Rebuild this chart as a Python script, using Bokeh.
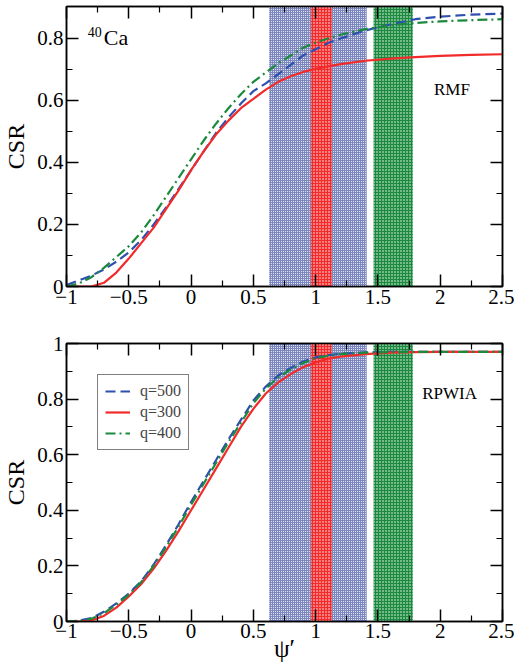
from bokeh.plotting import figure
from bokeh.models import (Range1d, LinearAxis, FixedTicker, BoxAnnotation, Label,
                          Legend, LegendItem, CustomLabelingPolicy)
from bokeh.layouts import column
from bokeh.embed import file_html
from bokeh.resources import INLINE

# ---------------- data ----------------
psi = [-1.0, -0.9, -0.8, -0.7, -0.6, -0.5, -0.4, -0.3, -0.2, -0.1, 0.0,
       0.1, 0.2, 0.3, 0.4, 0.5, 0.6, 0.7, 0.8, 0.9, 1.0, 1.1, 1.2, 1.4,
       1.6, 1.8, 2.0, 2.25, 2.5]

# RMF panel
rmf_q500 = [0.005, 0.02, 0.035, 0.055, 0.08, 0.11, 0.15, 0.20, 0.255, 0.315, 0.375,
            0.435, 0.495, 0.545, 0.59, 0.63, 0.655, 0.685, 0.715, 0.745, 0.765,
            0.785, 0.80, 0.826, 0.845, 0.862, 0.87, 0.877, 0.88]
rmf_q300 = [0.0, 0.0, 0.0, 0.012, 0.045, 0.09, 0.14, 0.19, 0.25, 0.31, 0.375,
            0.435, 0.49, 0.535, 0.575, 0.605, 0.635, 0.66, 0.678, 0.692, 0.702,
            0.71, 0.717, 0.728, 0.735, 0.74, 0.744, 0.747, 0.749]
rmf_q400 = [0.0, 0.01, 0.03, 0.06, 0.095, 0.13, 0.175, 0.23, 0.29, 0.35, 0.41,
            0.47, 0.525, 0.575, 0.62, 0.66, 0.69, 0.72, 0.745, 0.77, 0.787,
            0.80, 0.812, 0.83, 0.842, 0.85, 0.855, 0.859, 0.862]

# RPWIA panel
rpwia_q500 = [0.0, 0.003, 0.012, 0.035, 0.065, 0.10, 0.145, 0.205, 0.275, 0.35, 0.43,
              0.505, 0.58, 0.655, 0.725, 0.795, 0.845, 0.885, 0.912, 0.935, 0.95,
              0.958, 0.963, 0.968, 0.97, 0.97, 0.97, 0.97, 0.97]
rpwia_q300 = [0.0, 0.0, 0.004, 0.02, 0.05, 0.09, 0.135, 0.19, 0.255, 0.325, 0.40,
              0.475, 0.55, 0.625, 0.70, 0.765, 0.82, 0.86, 0.89, 0.915, 0.932,
              0.945, 0.953, 0.962, 0.967, 0.969, 0.97, 0.97, 0.97]
rpwia_q400 = [0.0, 0.002, 0.01, 0.03, 0.06, 0.097, 0.142, 0.2, 0.268, 0.342, 0.42,
              0.495, 0.57, 0.645, 0.715, 0.785, 0.838, 0.878, 0.907, 0.93, 0.947,
              0.956, 0.962, 0.967, 0.969, 0.97, 0.97, 0.97, 0.97]

# shaded psi' bands (left, right)
band_blue = (0.627, 1.41)
band_red = (0.962, 1.129)
band_green = (1.465, 1.78)

x_major = [-1.0, -0.5, 0.0, 0.5, 1.0, 1.5, 2.0, 2.5]
x_minor = [-0.75, -0.25, 0.25, 0.75, 1.25, 1.75, 2.25]
x_labels = {-1.0: "\u22121", -0.5: "\u22120.5", 0.0: "0", 0.5: "0.5", 1.0: "1",
            1.5: "1.5", 2.0: "2", 2.5: "2.5"}
y_major_top = [0.0, 0.2, 0.4, 0.6, 0.8]
y_minor_top = [0.1, 0.3, 0.5, 0.7]
y_major_bot = [0.0, 0.2, 0.4, 0.6, 0.8, 1.0]
y_minor_bot = [0.1, 0.3, 0.5, 0.7, 0.9]
y_labels = {0.0: "0", 0.2: "0.2", 0.4: "0.4", 0.6: "0.6", 0.8: "0.8", 1.0: "1"}

series_names = ["q=500", "q=300", "q=400"]
BLUE = "#2f4fae"
RED = "#f22a2a"
GREEN = "#1b8a3e"
BAND_BLUE = "#34479a"
SERIF = "Liberation Serif"

HIDE_ALL = "for (const i of indices) { indices.unset(i) }\nreturn indices"


def style_axis(ax, show_labels):
    ax.axis_line_color = "black"
    ax.axis_line_width = 1.5
    ax.major_tick_line_color = "black"
    ax.major_tick_line_width = 1.5
    ax.minor_tick_line_color = "black"
    ax.minor_tick_line_width = 1.2
    ax.major_tick_in = 12
    ax.major_tick_out = 0
    ax.minor_tick_in = 6
    ax.minor_tick_out = 0
    ax.major_label_text_font = SERIF
    ax.major_label_text_color = "black"
    if show_labels:
        ax.major_label_text_font_size = "21px"
        ax.major_label_standoff = 3
    else:
        ax.major_label_text_font_size = "1px"
        ax.major_label_standoff = 0
        ax.major_label_policy = CustomLabelingPolicy(code=HIDE_ALL)


def make_fig(height, border_top, border_bottom, ymax, ymaj, ymin):
    p = figure(width=514, height=height, output_backend="svg", toolbar_location=None,
               x_range=Range1d(-1.0, 2.5), y_range=Range1d(0.0, ymax),
               min_border_left=66, min_border_right=12,
               min_border_top=border_top, min_border_bottom=border_bottom)
    p.grid.visible = False
    p.outline_line_color = "black"
    p.outline_line_width = 1.5
    p.background_fill_color = "white"
    bottom_ax = p.below[0]
    left_ax = p.left[0]
    bottom_ax.ticker = FixedTicker(ticks=x_major, minor_ticks=x_minor)
    left_ax.ticker = FixedTicker(ticks=ymaj, minor_ticks=ymin)
    bottom_ax.major_label_overrides = x_labels
    left_ax.major_label_overrides = y_labels
    style_axis(bottom_ax, True)
    style_axis(left_ax, True)
    left_ax.major_label_standoff = 3
    left_ax.axis_label = "CSR"
    left_ax.axis_label_text_font = SERIF
    left_ax.axis_label_text_font_size = "24px"
    left_ax.axis_label_text_font_style = "normal"
    left_ax.axis_label_text_color = "black"
    left_ax.axis_label_standoff = 5
    top = LinearAxis(ticker=FixedTicker(ticks=x_major, minor_ticks=x_minor))
    style_axis(top, False)
    p.add_layout(top, "above")
    right = LinearAxis(ticker=FixedTicker(ticks=ymaj, minor_ticks=ymin))
    style_axis(right, False)
    p.add_layout(right, "right")

    for (l, r), col, alpha, sc in [(band_blue, BAND_BLUE, 0.65, 2),
                                   (band_red, RED, 1.0, 3),
                                   (band_green, GREEN, 1.0, 3)]:
        p.add_layout(BoxAnnotation(left=l, right=r, fill_color=col, fill_alpha=alpha,
                                   hatch_pattern="dot", hatch_color="white",
                                   hatch_scale=sc, hatch_weight=1,
                                   line_color=None, level="underlay"))
    return p


p1 = make_fig(316, 6, 30, 0.903, y_major_top, y_minor_top)
p2 = make_fig(354, 27, 49, 1.0, y_major_bot, y_minor_bot)
xb = p2.below[0]
xb.axis_label = "\u03c8\u2032"
xb.axis_label_text_font = SERIF
xb.axis_label_text_font_size = "25px"
xb.axis_label_text_font_style = "normal"
xb.axis_label_text_color = "black"
xb.axis_label_standoff = -6
xb.major_label_standoff = 2

renderers = []
for p, ys in [(p1, (rmf_q500, rmf_q300, rmf_q400)), (p2, (rpwia_q500, rpwia_q300, rpwia_q400))]:
    rb = p.line(psi, ys[0], line_color=BLUE, line_width=2.2, line_dash="10 5")
    rr = p.line(psi, ys[1], line_color=RED, line_width=2.2)
    rg = p.line(psi, ys[2], line_color=GREEN, line_width=2.2, line_dash="10 4 2 4")
    renderers.append((rb, rr, rg))

# texts
p1.add_layout(Label(x=-0.70, y=0.763, text="Ca", text_font=SERIF, text_font_size="22px",
                    text_color="black"))
p1.add_layout(Label(x=-0.83, y=0.805, text="40", text_font=SERIF, text_font_size="14px",
                    text_color="black"))
p1.add_layout(Label(x=1.95, y=0.605, text="RMF", text_font=SERIF, text_font_size="17px",
                    text_color="black"))
p2.add_layout(Label(x=1.855, y=0.785, text="RPWIA", text_font=SERIF, text_font_size="17px",
                    text_color="black"))

rb, rr, rg = renderers[1]
legend = Legend(items=[LegendItem(label=series_names[0], renderers=[rb]),
                       LegendItem(label=series_names[1], renderers=[rr]),
                       LegendItem(label=series_names[2], renderers=[rg])],
                location=(31, 171))
legend.label_text_font = SERIF
legend.label_text_font_size = "16px"
legend.label_height = 18
legend.glyph_width = 25
legend.glyph_height = 16
legend.label_standoff = 10
legend.padding = 7
legend.spacing = 3
legend.margin = 0
legend.border_line_color = "black"
legend.border_line_width = 1.2
legend.background_fill_alpha = 1.0
p2.add_layout(legend)

layout = column(p1, p2, spacing=0)
open("out.html", "w").write(file_html(layout, INLINE))
